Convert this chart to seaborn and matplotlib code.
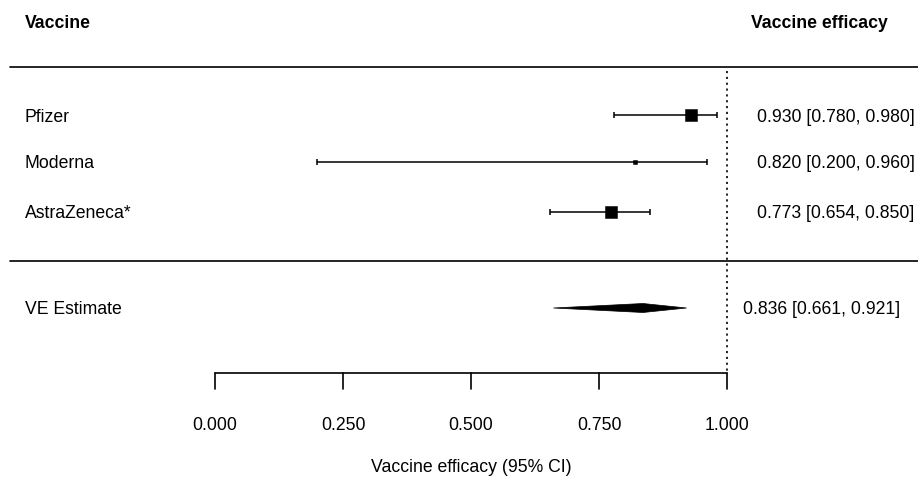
import matplotlib
matplotlib.use("Agg")
import matplotlib.pyplot as plt
import seaborn as sns
import pandas as pd

# study rows
vaccines = ["Pfizer", "Moderna", "AstraZeneca*"]
estimates = [0.930, 0.820, 0.773]
lower = [0.780, 0.200, 0.654]
upper = [0.980, 0.960, 0.850]
weights = [75, 8, 75]

# pooled estimate
pooled_label = "VE Estimate"
pooled_est = 0.836
pooled_lo = 0.661
pooled_hi = 0.921

ticks = [0.0, 0.25, 0.5, 0.75, 1.0]
tick_labels = ["0.000", "0.250", "0.500", "0.750", "1.000"]

# layout (rows in pixel units, top = 0)
row_y = [116, 163, 213]
pooled_y = 309
axis_y = 374

sns.set_theme(style="white")
plt.rcParams["font.family"] = ["Liberation Sans", "DejaVu Sans"]
plt.rcParams["text.color"] = "black"
fs = 12.7

df = pd.DataFrame({"vaccine": vaccines, "est": estimates, "lo": lower,
                   "hi": upper, "w": weights, "y": row_y})

fig = plt.figure(figsize=(9.18, 4.81), dpi=100)
ax = fig.add_axes([0, 0, 1, 1])
ax.set_xlim(-215 / 512, 703 / 512)
ax.set_ylim(481, 0)
ax.axis("off")

# confidence intervals with small caps
ax.errorbar(df["est"], df["y"],
            xerr=[df["est"] - df["lo"], df["hi"] - df["est"]],
            fmt="none", ecolor="black", elinewidth=1.1, capsize=2.5, capthick=1.1)

# point estimates sized by weight
sns.scatterplot(data=df, x="est", y="y", size="w", sizes=(8, 75), marker="s",
                color="black", edgecolor="black", legend=False, ax=ax, zorder=3)

# pooled diamond
h = 4.5
ax.fill([pooled_lo, pooled_est, pooled_hi, pooled_est],
        [pooled_y, pooled_y - h, pooled_y, pooled_y + h],
        color="black", lw=0.5)

# reference line at 1
ax.plot([1, 1], [72, axis_y], color="black", lw=1.2, ls=(0, (1.3, 2.2)))

# separators
x_left = -205 / 512
x_right = 703 / 512
ax.plot([x_left, x_right], [68, 68], color="black", lw=1.2)
ax.plot([x_left, x_right], [262, 262], color="black", lw=1.2)

# x axis
ax.plot([ticks[0], ticks[-1]], [axis_y, axis_y], color="black", lw=1.2)
for t, lab in zip(ticks, tick_labels):
    ax.plot([t, t], [axis_y, axis_y + 16], color="black", lw=1.2)
    ax.text(t, 426, lab, ha="center", va="center", fontsize=fs)
ax.text(0.5, 468, "Vaccine efficacy (95% CI)", ha="center", va="center", fontsize=fs)

# headers
lab_x = -190 / 512
ax.text(lab_x, 23, "Vaccine", ha="left", va="center", fontsize=fs, fontweight="bold")
ax.text(819 / 512 - 215 / 512, 23, "Vaccine efficacy", ha="center", va="center",
        fontsize=fs, fontweight="bold")

# row labels and values
val_x = (757 - 215) / 512
for name, e, lo, hi, y in zip(vaccines, estimates, lower, upper, row_y):
    ax.text(lab_x, y + 1, name, ha="left", va="center", fontsize=fs)
    ax.text(val_x, y + 1, f"{e:.3f} [{lo:.3f}, {hi:.3f}]", ha="left", va="center", fontsize=fs)

ax.text(lab_x, pooled_y + 1, pooled_label, ha="left", va="center", fontsize=fs)
ax.text((743 - 215) / 512, pooled_y + 1,
        f"{pooled_est:.3f} [{pooled_lo:.3f}, {pooled_hi:.3f}]",
        ha="left", va="center", fontsize=fs)

fig.savefig("out.png", dpi=100)
